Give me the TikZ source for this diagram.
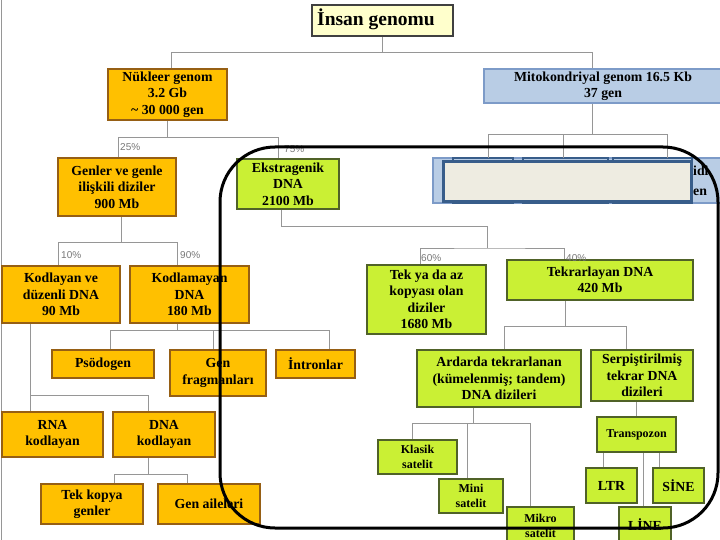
\documentclass[tikz,border=0pt]{standalone}
\usepackage{fontspec}
\setmainfont{Liberation Serif}
\newfontfamily\pctfont{Liberation Sans}
\usetikzlibrary{calc}
\definecolor{org}{RGB}{255,192,0}
\definecolor{orgb}{RGB}{150,95,20}
\definecolor{grn}{RGB}{202,240,52}
\definecolor{grnb}{RGB}{80,98,40}
\definecolor{blu}{RGB}{185,205,229}
\definecolor{blub}{RGB}{125,155,200}
\definecolor{dblu}{RGB}{56,93,138}
\definecolor{beig}{RGB}{238,236,225}
\definecolor{ttl}{RGB}{255,255,204}
\definecolor{conc}{RGB}{150,150,150}
\definecolor{pctc}{RGB}{120,120,120}
\begin{document}
\begin{tikzpicture}[x=1pt,y=-1pt,
  box/.style={draw, line width=1.6, inner sep=0pt, align=center, font=\bfseries\fontsize{13.8}{16.5}\selectfont},
  obox/.style={box, fill=org, draw=orgb},
  gbox/.style={box, fill=grn, draw=grnb},
  sbox/.style={gbox, font=\bfseries\fontsize{12}{14.5}\selectfont},
  bbox/.style={box, fill=blu, draw=blub},
  conn/.style={draw=conc, line width=1},
  pct/.style={font=\pctfont\fontsize{10}{12}\selectfont, text=pctc, inner sep=0pt, anchor=west},
  txt/.style={inner sep=0pt, font=\bfseries\fontsize{13.8}{16.5}\selectfont},
]
\useasboundingbox (0,0) rectangle (720,540);
\fill[white] (0,0) rectangle (720,540);
\draw[conc, line width=0.8] (1.5,0) -- (1.5,540);

% ---------- boxes ----------
\node[box, fill=ttl, draw=black!75, minimum width=141, minimum height=31] (title) at (382.5,20.5) {};
\node[txt, font=\bfseries\fontsize{19.5}{22}\selectfont] (titletext) at (376,19.5) {İnsan genomu};
\node[obox, minimum width=119, minimum height=51] (nuk) at (167.5,94.5)
  {Nükleer genom\\3.2 Gb\\\textasciitilde{} 30 000 gen};
\node[bbox, minimum width=238, minimum height=34] (mito) at (603,86)
  {Mitokondriyal genom 16.5 Kb\\37 gen};

\node[obox, minimum width=118, minimum height=58] (genler) at (117,187)
  {Genler ve genle\\ilişkili diziler\\900 Mb};
\node[gbox, minimum width=102, minimum height=50] (ekstra) at (288,184)
  {Ekstragenik\\DNA\\2100 Mb};

\node[obox, minimum width=118, minimum height=57] (kod) at (61,294.5)
  {Kodlayan ve\\düzenli DNA\\90 Mb};
\node[obox, minimum width=119, minimum height=57] (kodm) at (189.5,294.5)
  {Kodlamayan\\DNA\\180 Mb};

\node[gbox, minimum width=119, minimum height=69] (tekya) at (426.5,299.5)
  {Tek ya da az\\kopyası olan\\diziler\\1680 Mb};
\node[gbox, minimum width=186, minimum height=40] (tekrar) at (600,280)
  {Tekrarlayan DNA\\420 Mb};

\node[obox, minimum width=102, minimum height=28] (psod) at (103,364) {Psödogen};
\node[obox, minimum width=96, minimum height=46] (genfrag) at (218,373) {Gen\\fragmanları};
\node[obox, minimum width=79, minimum height=28] (intr) at (315.5,364) {İntronlar};

\node[obox, minimum width=101, minimum height=45] (rna) at (52.5,434.5) {RNA\\kodlayan};
\node[obox, minimum width=102, minimum height=45] (dnak) at (164,434.5) {DNA\\kodlayan};
\node[obox, minimum width=102, minimum height=40] (tekk) at (92,504) {Tek kopya\\genler};
\node[obox, minimum width=102, minimum height=40] (genail) at (209,504) {Gen aileleri};

\node[gbox, minimum width=164, minimum height=57] (ard) at (499,378.5)
  {Ardarda tekrarlanan\\(kümelenmiş; tandem)\\DNA dizileri};
\node[gbox, minimum width=102, minimum height=51] (serp) at (642,375.5)
  {Serpiştirilmiş\\tekrar DNA\\dizileri};

\node[sbox, minimum width=79, minimum height=34] (klas) at (417.5,457) {Klasik\\satelit};
\node[sbox, minimum width=64, minimum height=34] (mini) at (471,496) {Mini\\satelit};
\node[sbox, minimum width=67, minimum height=38] (mikro) at (540.5,526) {Mikro\\satelit};
\node[sbox, minimum width=79, minimum height=35] (transp) at (636.5,434.5) {Transpozon};
\node[gbox, minimum width=51, minimum height=35] (ltr) at (611.5,485.5) {LTR};
\node[gbox, minimum width=51, minimum height=35] (sine) at (678.5,485.5) {SİNE};
\node[gbox, minimum width=52, minimum height=36] (line) at (645,525) {LİNE};

% mitochondrial row (covered)
\node[bbox, minimum width=289, minimum height=45] (strip) at (577.5,180.5) {};
\node[draw=dblu, fill=blu, line width=1.5, minimum width=60, minimum height=45, inner sep=0pt] (in1) at (483,180.5) {};
\node[draw=dblu, fill=blu, line width=1.5, minimum width=85, minimum height=45, inner sep=0pt] (in2) at (565.5,180.5) {};
\node[draw=dblu, fill=blu, line width=1.5, minimum width=79, minimum height=45, inner sep=0pt] (in3) at (652.5,180.5) {};
\node[draw=dblu, fill=beig, line width=3, minimum width=248, minimum height=40, inner sep=0pt] (beige) at (567,182) {};
\node[txt, anchor=west] (st1) at (693,171) {idi};
\node[txt, anchor=west] (st2) at (693,192) {en};

% ---------- connectors ----------
\coordinate (t1) at ($(title.south)+(0,16)$);
\draw[conn] (title.south) -- (t1);
\draw[conn] ($(nuk.north)+(3.5,0)$) |- (t1) -| ($(mito.north)+(-11,0)$);

\coordinate (n1) at ($(nuk.south)+(0,17)$);
\draw[conn] (nuk.south) -- (n1);
\draw[conn] ($(genler.north)+(1,0)$) |- (n1) -| ($(ekstra.north)+(-10,0)$);

\coordinate (g0) at ($(genler.south)+(4,0)$);
\coordinate (g1) at ($(genler.south)+(4,26)$);
\draw[conn] (g0) -- (g1);
\draw[conn] ($(kod.north)+(-3,0)$) |- (g1) -| ($(kodm.north)+(-12.5,0)$);

\coordinate (e0) at ($(ekstra.south)+(-7,0)$);
\coordinate (e1) at (487,227);
\coordinate (e2) at (487,248);
\draw[conn] (e0) |- (e1) -- (e2);
\draw[conn] ($(tekya.north)+(-6.5,0)$) |- (e2) -| ($(tekrar.north)+(-36,0)$);

\coordinate (r0) at ($(tekrar.south)+(-35,0)$);
\coordinate (r1) at ($(tekrar.south)+(-35,26)$);
\draw[conn] (r0) -- (r1);
\draw[conn] ($(ard.north)+(5,0)$) |- (r1) -| ($(serp.north)+(-16,0)$);

\coordinate (m0) at ($(kodm.south)+(-12.5,0)$);
\coordinate (m1) at ($(kodm.south)+(-12.5,7)$);
\draw[conn] (m0) -- (m1);
\draw[conn] ($(psod.north)+(7,0)$) |- (m1) -| ($(intr.north)+(13.5,0)$);
\draw[conn] ($(genfrag.north)+(-5,0)$) |- (m1);

\coordinate (k0) at ($(kod.south)+(-31,0)$);
\coordinate (k1) at ($(kod.south)+(-31,72)$);
\draw[conn] (k0) -- (k1) -| ($(dnak.north)+(-16,0)$);
\draw[conn] (k1) -- ($(rna.north)+(-22.5,0)$);

\coordinate (d0) at ($(dnak.south)+(-16,0)$);
\coordinate (d1) at ($(dnak.south)+(-16,17)$);
\draw[conn] (d0) -- (d1);
\draw[conn] ($(tekk.north)+(22,0)$) |- (d1) -| ($(genail.north)+(-22,0)$);

\coordinate (a0) at ($(ard.south)+(-26,0)$);
\coordinate (a1) at ($(ard.south)+(-26,16)$);
\draw[conn] (a0) -- (a1);
\draw[conn] ($(klas.north)+(-5.5,0)$) |- (a1) -| ($(mikro.north)+(-10.5,0)$);
\draw[conn] ($(mini.north)+(-4,0)$) |- (a1);

\draw[conn] ($(serp.south)+(-5.5,0)$) -- (transp.north);
\coordinate (l1) at ($(ltr.north)+(-8.5,0)$);
\coordinate (l2) at ($(line.north)+(-2,0)$);
\coordinate (l3) at ($(sine.north)+(-19.5,0)$);
\draw[conn] (l1) -- (l1 |- transp.south);
\draw[conn] (l2) -- (l2 |- transp.south);
\draw[conn] (l3) -- (l3 |- transp.south);

\coordinate (mt0) at ($(mito.south)+(-11,0)$);
\coordinate (mt1) at ($(mito.south)+(-11,31)$);
\coordinate (b1) at (488,158);
\coordinate (b2) at (563,158);
\coordinate (b3) at (667,158);
\draw[conn] (mt0) -- (mt1);
\draw[conn] (b1) |- (mt1) -| (b3);
\draw[conn] (b2) -- (b2 |- mt1);

% ---------- percentages ----------
\node[pct] (p25) at (120,147) {25\%};
\node[pct] (p75) at (284,149) {75\%};
\node[pct] (p10) at (61,255) {10\%};
\node[pct] (p90) at (180,255) {90\%};
\node[pct] (p60) at (421,258) {60\%};
\node[pct] (p40) at (566,258) {40\%};

% ---------- black frame ----------
\draw[black, line width=3, rounded corners=55] (220,147) rectangle (718,528);
\end{tikzpicture}
\end{document}
